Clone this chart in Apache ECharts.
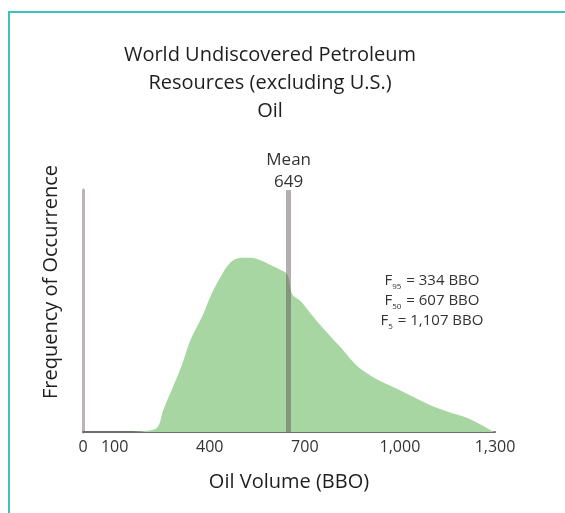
<!DOCTYPE html>
<html>
<head>
<meta charset="utf-8">
<title>World Undiscovered Petroleum Resources - Oil</title>
<script src="https://cdn.jsdelivr.net/npm/echarts@6/dist/echarts.min.js"></script>
<style>
    html, body { margin: 0; padding: 0; background: #fff; }
    #chart { width: 565px; height: 513px; }
</style>
</head>
<body>
<div id="chart"></div>
<script>
// oil volume (BBO) along the x axis and relative frequency (0-100)
var volumes = [0, 140, 200, 235, 253, 285, 313, 339, 377, 402, 434, 465, 497, 528, 560, 592, 623, 645,
    660, 687, 718, 750, 791, 820, 845, 877, 924, 972, 1035, 1098, 1161, 1209, 1256, 1290, 1300];
var frequency = [0, 0, 0.5, 2, 9, 19, 28, 38, 48, 56, 64, 70, 72, 72, 71, 69, 67, 65,
    57, 54, 49, 44, 38, 34, 30, 26, 22, 19, 15, 11, 8, 6, 3, 0.5, 0];

var tickValues = [0, 100, 400, 700, 1000, 1300];
var meanValue = 649;
var fractileNames = ['95', '50', '5'];
var fractileValues = [334, 607, 1107];

var FONT = '"Open Sans", "Noto Sans", sans-serif';

function withCommas(n) {
    return String(n).replace(/\B(?=(\d{3})+(?!\d))/g, ',');
}

(function() {
    var chart = echarts.init(document.getElementById('chart'), null, { renderer: 'canvas' });

    var points = volumes.map(function(v, i) {
        return [v, frequency[i]];
    });

    var fractileText = fractileNames.map(function(name, i) {
        return '{f|F}{s|' + name + '}{f| = ' + withCommas(fractileValues[i]) + ' BBO}';
    }).join('\n');

    var option = {
        animation: false,
        backgroundColor: '#fff',
        title: {
            text: 'World Undiscovered Petroleum\nResources (excluding U.S.)\nOil',
            left: 265,
            top: 36,
            textAlign: 'center',
            textStyle: {
                fontFamily: FONT,
                fontSize: 20,
                fontWeight: 'normal',
                lineHeight: 28,
                color: '#1e1e1e'
            }
        },
        grid: {
            left: 83,
            right: 70,
            top: 190,
            bottom: 81
        },
        xAxis: {
            type: 'value',
            min: 0,
            max: 1300,
            interval: 100,
            name: 'Oil Volume (BBO)',
            nameLocation: 'middle',
            nameGap: 40,
            nameTextStyle: {
                fontFamily: FONT,
                fontSize: 20,
                color: '#1e1e1e'
            },
            axisLine: {
                show: true,
                lineStyle: { color: '#6e6e6e', width: 2 }
            },
            axisTick: { show: false },
            splitLine: { show: false },
            axisLabel: {
                customValues: tickValues,
                margin: 7,
                fontFamily: FONT,
                fontSize: 16,
                color: '#333',
                formatter: function(v) {
                    return withCommas(v);
                }
            }
        },
        yAxis: {
            type: 'value',
            min: 0,
            max: 100,
            axisLine: {
                show: true,
                lineStyle: { color: '#bcb3b3', width: 3 }
            },
            axisTick: { show: false },
            axisLabel: { show: false },
            splitLine: { show: false }
        },
        series: [{
            type: 'line',
            data: points,
            smooth: 0.35,
            symbol: 'none',
            lineStyle: { width: 0, color: '#a8d6a2' },
            areaStyle: { color: '#a8d6a2', opacity: 1 },
            markLine: {
                silent: true,
                symbol: 'none',
                data: [{ xAxis: meanValue }],
                lineStyle: {
                    type: 'solid',
                    color: 'rgba(90,75,75,0.45)',
                    width: 5
                },
                label: {
                    position: 'end',
                    distance: -3,
                    formatter: 'Mean\n' + meanValue,
                    fontFamily: FONT,
                    fontSize: 17,
                    lineHeight: 22,
                    color: '#333'
                }
            }
        }],
        graphic: [
            // teal frame round the figure
            {
                type: 'polyline',
                silent: true,
                shape: { points: [[9, 513], [9, 12], [565, 12]] },
                style: { fill: null, stroke: '#3fc0b8', lineWidth: 2 }
            },
            {
                type: 'text',
                x: 51,
                y: 282,
                rotation: Math.PI / 2,
                style: {
                    text: 'Frequency of Occurrence',
                    font: '20px ' + FONT,
                    fill: '#1e1e1e',
                    align: 'center',
                    verticalAlign: 'middle'
                }
            },
            {
                type: 'text',
                x: 432,
                y: 301,
                style: {
                    text: fractileText,
                    align: 'center',
                    verticalAlign: 'middle',
                    fill: '#333',
                    rich: {
                        f: { fontFamily: FONT, fontSize: 15, lineHeight: 20, fill: '#333' },
                        s: { fontFamily: FONT, fontSize: 8, lineHeight: 8, verticalAlign: 'bottom', padding: [0, 1, 0, 0], fill: '#333' }
                    }
                }
            }
        ]
    };

    chart.setOption(option);
})();
</script>
</body>
</html>
